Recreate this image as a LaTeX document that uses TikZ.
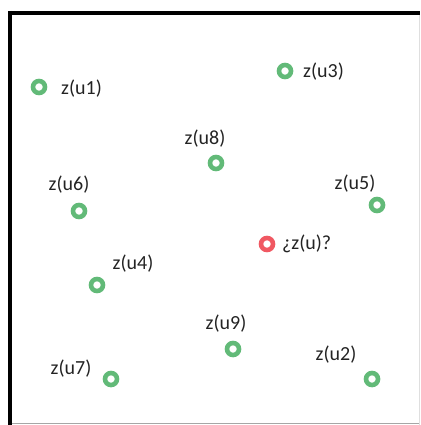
\documentclass[tikz,border=0pt]{standalone}
\usepackage{fontspec}
\setmainfont{Carlito}
\definecolor{ringgreen}{RGB}{98,186,120}
\definecolor{ringred}{RGB}{240,88,98}
\definecolor{txt}{RGB}{35,35,35}
\tikzset{
  pt/.style={circle,draw=ringgreen,line width=4.6pt,minimum size=12pt,inner sep=0pt},
  ptred/.style={pt,draw=ringred},
  lbl/.style={inner sep=0pt,text=txt,font=\fontsize{20}{24}\selectfont}
}
\begin{document}
\begin{tikzpicture}[x=1pt,y=-1pt]
\useasboundingbox (0,0) rectangle (420,425);
\coordinate (tl) at (8,13);
\coordinate (tr) at (420,13);
\coordinate (bl) at (10,425);
\coordinate (tl2) at (10,11);
\draw[line width=4pt] (tl) -- (tr);
\draw[line width=4pt] (tl2) -- (bl);
\coordinate (b1) at (12,423.5);
\coordinate (b2) at (420,423.5);
\draw[gray!70,line width=1.2pt] (b1) -- (b2);
\coordinate (r1) at (419.3,15);
\coordinate (r2) at (419.3,425);
\draw[gray!25,line width=1pt] (r1) -- (r2);

\node[pt] (u1) at (39,87) {};
\node[lbl,anchor=west] (l1) at (61,89) {z(u1)};
\node[pt] (u3) at (285,71) {};
\node[lbl,anchor=west] (l3) at (303,72) {z(u3)};
\node[pt] (u8) at (216,163) {};
\node[lbl] (l8) at (205,139) {z(u8)};
\node[pt] (u6) at (79,211) {};
\node[lbl] (l6) at (69,185) {z(u6)};
\node[pt] (u5) at (377,205) {};
\node[lbl] (l5) at (355,184) {z(u5)};
\node[ptred] (u) at (267,244) {};
\node[lbl,anchor=west] (lu) at (282,244) {¿z(u)?};
\node[pt] (u4) at (97,285) {};
\node[lbl] (l4) at (133,264) {z(u4)};
\node[pt] (u9) at (233,349) {};
\node[lbl] (l9) at (226,324) {z(u9)};
\node[pt] (u7) at (111,379) {};
\node[lbl] (l7) at (71,369) {z(u7)};
\node[pt] (u2) at (372,379) {};
\node[lbl] (l2) at (336,355) {z(u2)};
\end{tikzpicture}
\end{document}
